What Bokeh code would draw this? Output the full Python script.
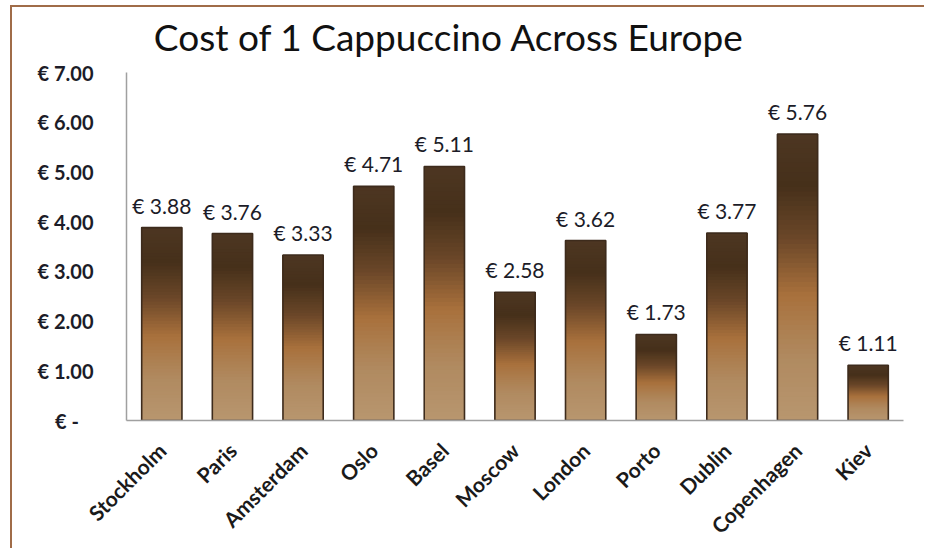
import math
from bokeh.plotting import figure
from bokeh.models import ColumnDataSource, FixedTicker, LabelSet
from bokeh.core.properties import value
from bokeh.embed import file_html
from bokeh.resources import INLINE

# ---- data ----
cities = ["Stockholm", "Paris", "Amsterdam", "Oslo", "Basel", "Moscow",
          "London", "Porto", "Dublin", "Copenhagen", "Kiev"]
prices = [3.88, 3.76, 3.33, 4.71, 5.11, 2.58, 3.62, 1.73, 3.77, 5.76, 1.11]
price_labels = ["€ %.2f" % v for v in prices]
y_ticks = [0, 1, 2, 3, 4, 5, 6, 7]
y_tick_labels = ["€ -\u00a0\u00a0\u00a0", "€ 1.00", "€ 2.00", "€ 3.00", "€ 4.00",
                 "€ 5.00", "€ 6.00", "€ 7.00"]
title_text = "Cost of 1 Cappuccino  Across Europe"

# ---- gradient helper (colour by fraction from bar top) ----
stops = [(0.0, (0x4d, 0x36, 0x22)), (0.18, (0x46, 0x30, 0x1a)),
         (0.36, (0x6a, 0x46, 0x28)), (0.56, (0xa8, 0x70, 0x3c)),
         (0.78, (0xb0, 0x8a, 0x60)), (1.0, (0xb8, 0x96, 0x6f))]


def grad(t):
    for (t0, c0), (t1, c1) in zip(stops[:-1], stops[1:]):
        if t <= t1:
            f = (t - t0) / (t1 - t0)
            return "#%02x%02x%02x" % tuple(int(round(a + (b - a) * f)) for a, b in zip(c0, c1))
    return "#%02x%02x%02x" % stops[-1][1]


# each slice spans from its lower edge up to the bar top; drawn bottom-first
N = 60
gx, gtop, gbot, gcol = [], [], [], []
for c, v in zip(cities, prices):
    for k in range(N - 1, -1, -1):
        gx.append(c)
        gtop.append(v)
        gbot.append(v * (1 - (k + 1) / N))
        gcol.append(grad((k + 0.5) / N))
gsrc = ColumnDataSource(dict(x=gx, top=gtop, bottom=gbot, color=gcol))
src = ColumnDataSource(dict(x=cities, top=prices, lab=price_labels))

# layout: frame spans the title strip too; the value axis is bounded to 0..7
FRAME_TOP_PX = 65          # pixels between canvas top and the 7.00 gridline
AXIS_PX = 348              # pixels for 0..7
Y_MAX = 7
y_end = Y_MAX + FRAME_TOP_PX * Y_MAX / AXIS_PX
title_y = Y_MAX + (FRAME_TOP_PX - 29) * Y_MAX / AXIS_PX
title_x = 327.5 / 777 * len(cities)

FONT = "Lato"
p = figure(x_range=cities, y_range=(0, y_end), width=914, height=543,
           output_backend="svg", toolbar_location=None,
           min_border_left=114, min_border_right=23,
           min_border_top=0, min_border_bottom=130)
p.styles = {"border-left": "2px solid #a06c48", "border-top": "2px solid #a06c48",
            "margin-left": "10px", "margin-top": "5px"}
p.outline_line_color = None
p.xgrid.grid_line_color = None
p.ygrid.grid_line_color = None
p.x_range.range_padding = 0
p.background_fill_color = "white"
p.border_fill_color = "white"

p.text(x=[title_x], y=[title_y], text=[title_text], text_align="center",
       text_baseline="alphabetic", text_font=value(FONT),
       text_font_size="37px", text_color="#111111")

p.vbar(x="x", top="top", bottom="bottom", width=0.57, source=gsrc,
       fill_color="color", line_color=None)
p.vbar(x="x", top="top", bottom=0, width=0.57, source=src,
       fill_alpha=0, line_color="#3d2b1c", line_width=1.6)

labels = LabelSet(x="x", y="top", text="lab", source=src, y_offset=10,
                  text_align="center", text_baseline="bottom",
                  text_font=value(FONT), text_font_size=value("21px"),
                  text_color=value("#1c1c28"))
p.add_layout(labels)

ya = p.yaxis[0]
ya.bounds = (0, Y_MAX)
ya.ticker = FixedTicker(ticks=y_ticks)
ya.major_label_overrides = {t: l for t, l in zip(y_ticks, y_tick_labels)}
ya.axis_line_color = "#a0a0a0"
ya.axis_line_width = 1.5
ya.major_tick_line_color = None
ya.minor_tick_line_color = None
ya.major_label_standoff = 27
ya.major_label_text_font = FONT
ya.major_label_text_font_style = "bold"
ya.major_label_text_font_size = "20px"
ya.major_label_text_color = "#1c1c28"

xa = p.xaxis[0]
xa.axis_line_color = "#a0a0a0"
xa.axis_line_width = 1.5
xa.major_tick_line_color = None
xa.minor_tick_line_color = None
xa.major_label_orientation = math.pi / 4
xa.major_label_standoff = 20
xa.major_label_text_font = FONT
xa.major_label_text_font_style = "bold"
xa.major_label_text_font_size = "21px"
xa.major_label_text_color = "#1a1a1a"

open("out.html", "w").write(file_html(p, INLINE))
